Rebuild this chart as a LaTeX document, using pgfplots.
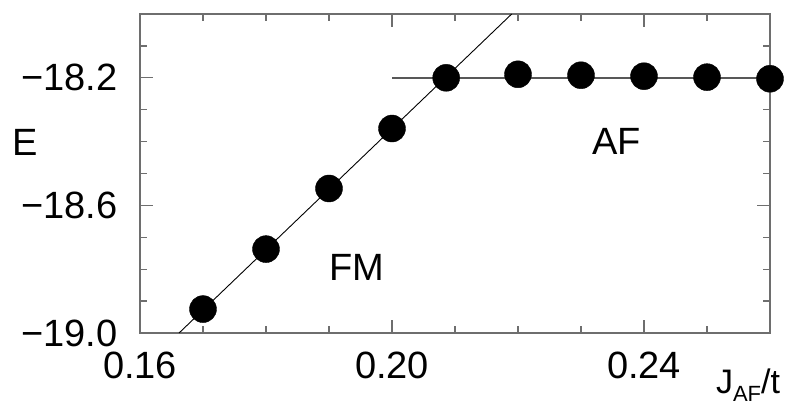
\documentclass[border=0pt]{standalone}
\usepackage{pgfplots}
\pgfplotsset{compat=1.18}
\usepackage{fontspec}
\setmainfont{Liberation Sans}
\definecolor{axgray}{RGB}{110,110,110}
\newcommand{\bigfont}{\fontsize{38}{42}\selectfont}
\begin{document}
\begin{tikzpicture}
% page frame: 795 x 410, axis box 630 x 319 at (140,14) from the top left
\path (-140pt,-77pt) rectangle (655pt,333pt);
\begin{axis}[
    scale only axis,
    width=630pt, height=319pt,
    xmin=0.16, xmax=0.26,
    ymin=-19, ymax=-18,
    clip=false,
    axis line style={axgray, line width=1.6pt},
    tick style={axgray, line width=1.4pt},
    major tick length=13pt,
    minor tick length=7pt,
    xtick={0.16,0.20,0.24},
    xticklabels={0.16,0.20,0.24},
    minor xtick={0.17,0.18,0.19,0.21,0.22,0.23,0.25},
    ytick={-19,-18.6,-18.2},
    yticklabels={−19.0,−18.6,−18.2},
    minor ytick={-18.9,-18.8,-18.7,-18.5,-18.4,-18.3,-18.1},
    xticklabel style={font=\bigfont, yshift=-15pt},
    yticklabel style={font=\bigfont, xshift=-19pt},
]
% fitted lines
\addplot[black, line width=0.9pt] coordinates {(0.1662,-19) (0.2190,-18)};
\addplot[axgray!80!black, line width=1.5pt] coordinates {(0.20,-18.2) (0.26,-18.2)};
% computed energies
\addplot[only marks, mark=*, mark size=13.5pt, black] coordinates {
    (0.17,-18.925) (0.18,-18.737) (0.19,-18.547) (0.20,-18.359)
    (0.2086,-18.20) (0.22,-18.189) (0.23,-18.192) (0.24,-18.195)
    (0.25,-18.198) (0.26,-18.203)
};
\node[font=\bigfont] at (axis cs:0.14175,-18.403) {E};
\node[font=\bigfont] at (axis cs:0.19444,-18.794) {FM};
\node[font=\bigfont] at (axis cs:0.2357,-18.40) {AF};
\node[font=\fontsize{34}{38}\selectfont, anchor=base west, inner sep=0pt] at (axis cs:0.2514,-19.19)
    {J\raisebox{-8pt}{\fontsize{22}{24}\selectfont AF}/t};
\end{axis}
\end{tikzpicture}
\end{document}
